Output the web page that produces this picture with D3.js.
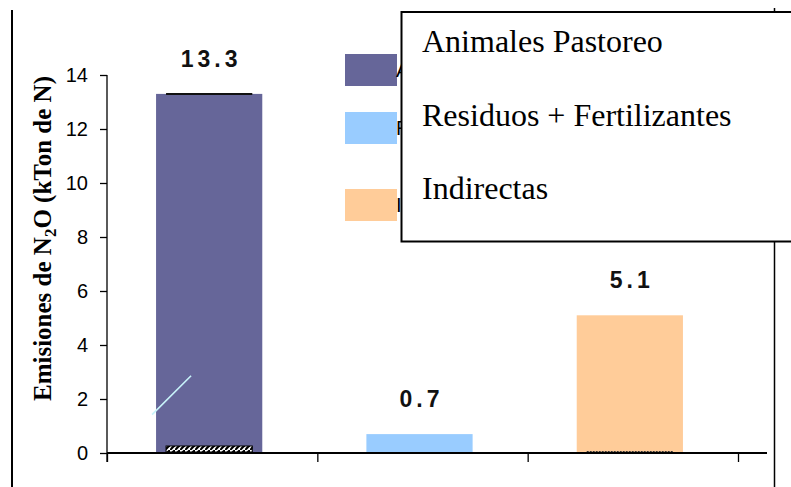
<!DOCTYPE html>
<html>
<head>
<meta charset="utf-8">
<script src="https://cdn.jsdelivr.net/npm/d3@7"></script>
<style>
  html, body { margin: 0; padding: 0; background: #fff; }
  svg { display: block; }
</style>
</head>
<body>
<svg id="chart" width="791" height="487"></svg>
<script>
// N2O emissions by source (kTon of N)
const categories = ["Animales Pastoreo", "Residuos + Fertilizantes", "Indirectas"];
const values = [13.3, 0.7, 5.1];
const valueLabels = ["13.3", "0.7", "5.1"];
const yTicks = [0, 2, 4, 6, 8, 10, 12, 14];
const colors = ["#666699", "#99CCFF", "#FFCC99"];

const svg = d3.select("#chart");
const sans = "'Liberation Sans', Arial, sans-serif";
const serif = "'Liberation Serif', 'Times New Roman', serif";

const plot = { left: 107, right: 738, top: 75, bottom: 453 };

const x = d3.scaleBand().domain(categories).range([plot.left, plot.right]);
const xEdge = d3.scaleLinear().domain([0, categories.length]).range([plot.left, plot.right]);
const y = d3.scaleLinear().domain([0, 14]).range([plot.bottom, plot.top]);

const bw = x.bandwidth();
const barW = bw * 0.505;
const barX = c => x(c) + (bw - barW) / 2 - 3;

// outer frame lines
svg.append("line").attr("x1", 12).attr("x2", 12).attr("y1", 10).attr("y2", 487)
  .attr("stroke", "#000").attr("stroke-width", 2);
svg.append("line").attr("x1", 774.5).attr("x2", 774.5).attr("y1", 8).attr("y2", 487)
  .attr("stroke", "#000").attr("stroke-width", 1.5);

// hatch pattern for the base strip
const defs = svg.append("defs");
const pat = defs.append("pattern").attr("id", "hatch").attr("patternUnits", "userSpaceOnUse")
  .attr("width", 5).attr("height", 5);
pat.append("rect").attr("width", 5).attr("height", 5).attr("fill", "#fff");
pat.append("path").attr("d", "M-1,6 L6,-1").attr("stroke", "#000").attr("stroke-width", 2.2);

// bars
svg.append("g").selectAll("rect").data(categories).join("rect")
  .attr("x", d => barX(d))
  .attr("width", barW)
  .attr("y", (d, i) => y(values[i]))
  .attr("height", (d, i) => y(0) - y(values[i]))
  .attr("fill", (d, i) => colors[i]);

// inner outline details on the bars
const innerW = bw * 0.41;
const innerX = c => x(c) + (bw - innerW) / 2 - 3;
svg.append("line")
  .attr("x1", innerX(categories[0])).attr("x2", innerX(categories[0]) + innerW)
  .attr("y1", y(values[0])).attr("y2", y(values[0]))
  .attr("stroke", "#111").attr("stroke-width", 2);
svg.append("rect")
  .attr("x", innerX(categories[0])).attr("width", innerW)
  .attr("y", y(0) - 7).attr("height", 6)
  .attr("fill", "url(#hatch)").attr("stroke", "#000").attr("stroke-width", 1);
svg.append("line")
  .attr("x1", innerX(categories[2])).attr("x2", innerX(categories[2]) + innerW)
  .attr("y1", y(0) - 1.5).attr("y2", y(0) - 1.5)
  .attr("stroke", "#333").attr("stroke-width", 1.2).attr("stroke-dasharray", "2,1");

// thin light stroke across the first bar
svg.append("line")
  .attr("x1", barX(categories[0]) - 4).attr("y1", y(1.42))
  .attr("x2", barX(categories[0]) + 35).attr("y2", y(2.86))
  .attr("stroke", "#c8f4fa").attr("stroke-width", 1.6);

// value labels
svg.append("g").selectAll("text").data(categories).join("text")
  .attr("x", d => barX(d) + barW / 2 + 2)
  .attr("y", (d, i) => y(values[i]) - 27)
  .attr("text-anchor", "middle")
  .attr("font-family", sans).attr("font-weight", "bold").attr("font-size", 23)
  .attr("letter-spacing", 4)
  .attr("fill", "#111")
  .text((d, i) => valueLabels[i]);

// y axis
const yAxis = svg.append("g").attr("transform", `translate(${plot.left},0)`)
  .call(d3.axisLeft(y).tickValues(yTicks).tickSize(7).tickSizeOuter(0).tickPadding(12));
yAxis.select(".domain").remove();
yAxis.selectAll(".tick line").attr("stroke", "#000").attr("stroke-width", 1.3);
yAxis.selectAll(".tick text").attr("font-family", sans).attr("font-size", 20).attr("fill", "#000");
svg.append("line").attr("x1", plot.left).attr("x2", plot.left)
  .attr("y1", plot.top).attr("y2", plot.bottom + 9)
  .attr("stroke", "#000").attr("stroke-width", 1.3);

// x axis with ticks at category boundaries
const xAxis = svg.append("g").attr("transform", `translate(0,${plot.bottom})`)
  .call(d3.axisBottom(xEdge).tickValues(d3.range(categories.length + 1)).tickSize(9).tickFormat(""));
xAxis.select(".domain").remove();
xAxis.selectAll(".tick line").attr("stroke", "#000").attr("stroke-width", 1.3);
svg.append("line").attr("x1", plot.left).attr("x2", 767)
  .attr("y1", plot.bottom).attr("y2", plot.bottom)
  .attr("stroke", "#000").attr("stroke-width", 2);

// y axis title
const title = svg.append("text")
  .attr("transform", `translate(51,${(75 + 402) / 2}) rotate(-90)`)
  .attr("text-anchor", "middle")
  .attr("font-family", serif).attr("font-weight", "bold").attr("font-size", 25)
  .attr("fill", "#000");
title.append("tspan").text("Emisiones de N");
title.append("tspan").attr("font-size", 17).attr("dy", 5).text("2");
title.append("tspan").attr("dy", -5).text("O (kTon de N)");

// underlying legend swatches
const legendRows = [70, 128, 205];
const back = svg.append("g");
back.selectAll("rect").data(categories).join("rect")
  .attr("x", 345).attr("width", 52)
  .attr("y", (d, i) => legendRows[i] - 16).attr("height", 32)
  .attr("fill", (d, i) => colors[i]);
back.selectAll("text").data(categories).join("text")
  .attr("x", 396).attr("y", (d, i) => legendRows[i] + 7)
  .attr("font-family", sans).attr("font-size", 20).attr("fill", "#000")
  .text(d => d.charAt(0));

// legend box
svg.append("rect").attr("x", 401.5).attr("y", 12).attr("width", 420).attr("height", 229.5)
  .attr("fill", "#fff").attr("stroke", "#000").attr("stroke-width", 2);
const legendBaselines = [52, 126, 199];
svg.append("g").selectAll("text").data(categories).join("text")
  .attr("x", 422).attr("y", (d, i) => legendBaselines[i])
  .attr("font-family", serif).attr("font-size", 32).attr("fill", "#000")
  .text(d => d);
</script>
</body>
</html>
